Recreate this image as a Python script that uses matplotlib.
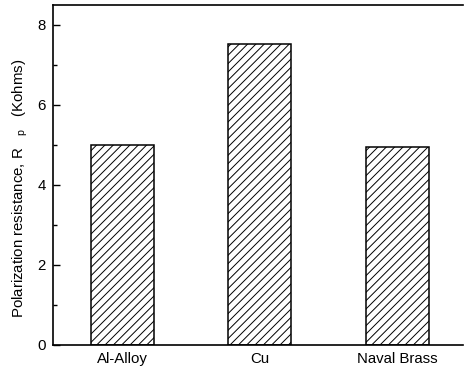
import matplotlib
matplotlib.use('Agg')
import matplotlib.pyplot as plt
from matplotlib.ticker import MultipleLocator

materials = ['Al-Alloy', 'Cu', 'Naval Brass']
rp_kohms = [5.0, 7.52, 4.95]

plt.rcParams['font.family'] = ['Liberation Sans', 'DejaVu Sans']
plt.rcParams['mathtext.fontset'] = 'custom'
plt.rcParams['mathtext.rm'] = 'Liberation Sans'
plt.rcParams['hatch.linewidth'] = 0.7

fig = plt.figure(figsize=(4.65, 3.72), dpi=100)
ax = fig.add_axes([0.114, 0.073, 0.882, 0.914])

pos = list(range(len(materials)))
ax.bar(pos, rp_kohms, width=0.457, facecolor='white', edgecolor='black',
       linewidth=1.1, hatch='////')

ax.set_xlim(-0.504, 2.48)
ax.set_ylim(0, 8.5)
ax.set_xticks(pos)
ax.set_xticklabels(materials, fontsize=10.8)
ax.tick_params(axis='x', length=0, pad=5)

ax.yaxis.set_major_locator(MultipleLocator(2))
ax.yaxis.set_minor_locator(MultipleLocator(1))
ax.tick_params(axis='y', which='major', direction='in', length=5, width=1, labelsize=10.8, pad=5)
ax.tick_params(axis='y', which='minor', direction='in', length=3, width=1)

ax.spines['right'].set_visible(False)
for s in ['left', 'bottom', 'top']:
    ax.spines[s].set_linewidth(1.2)

ax.set_ylabel(r'Polarization resistance, R   $_{\rm p}$   (Kohms)', fontsize=10.8)
ax.yaxis.set_label_coords(-0.055, 0.46)

fig.savefig('out.png', dpi=100)
